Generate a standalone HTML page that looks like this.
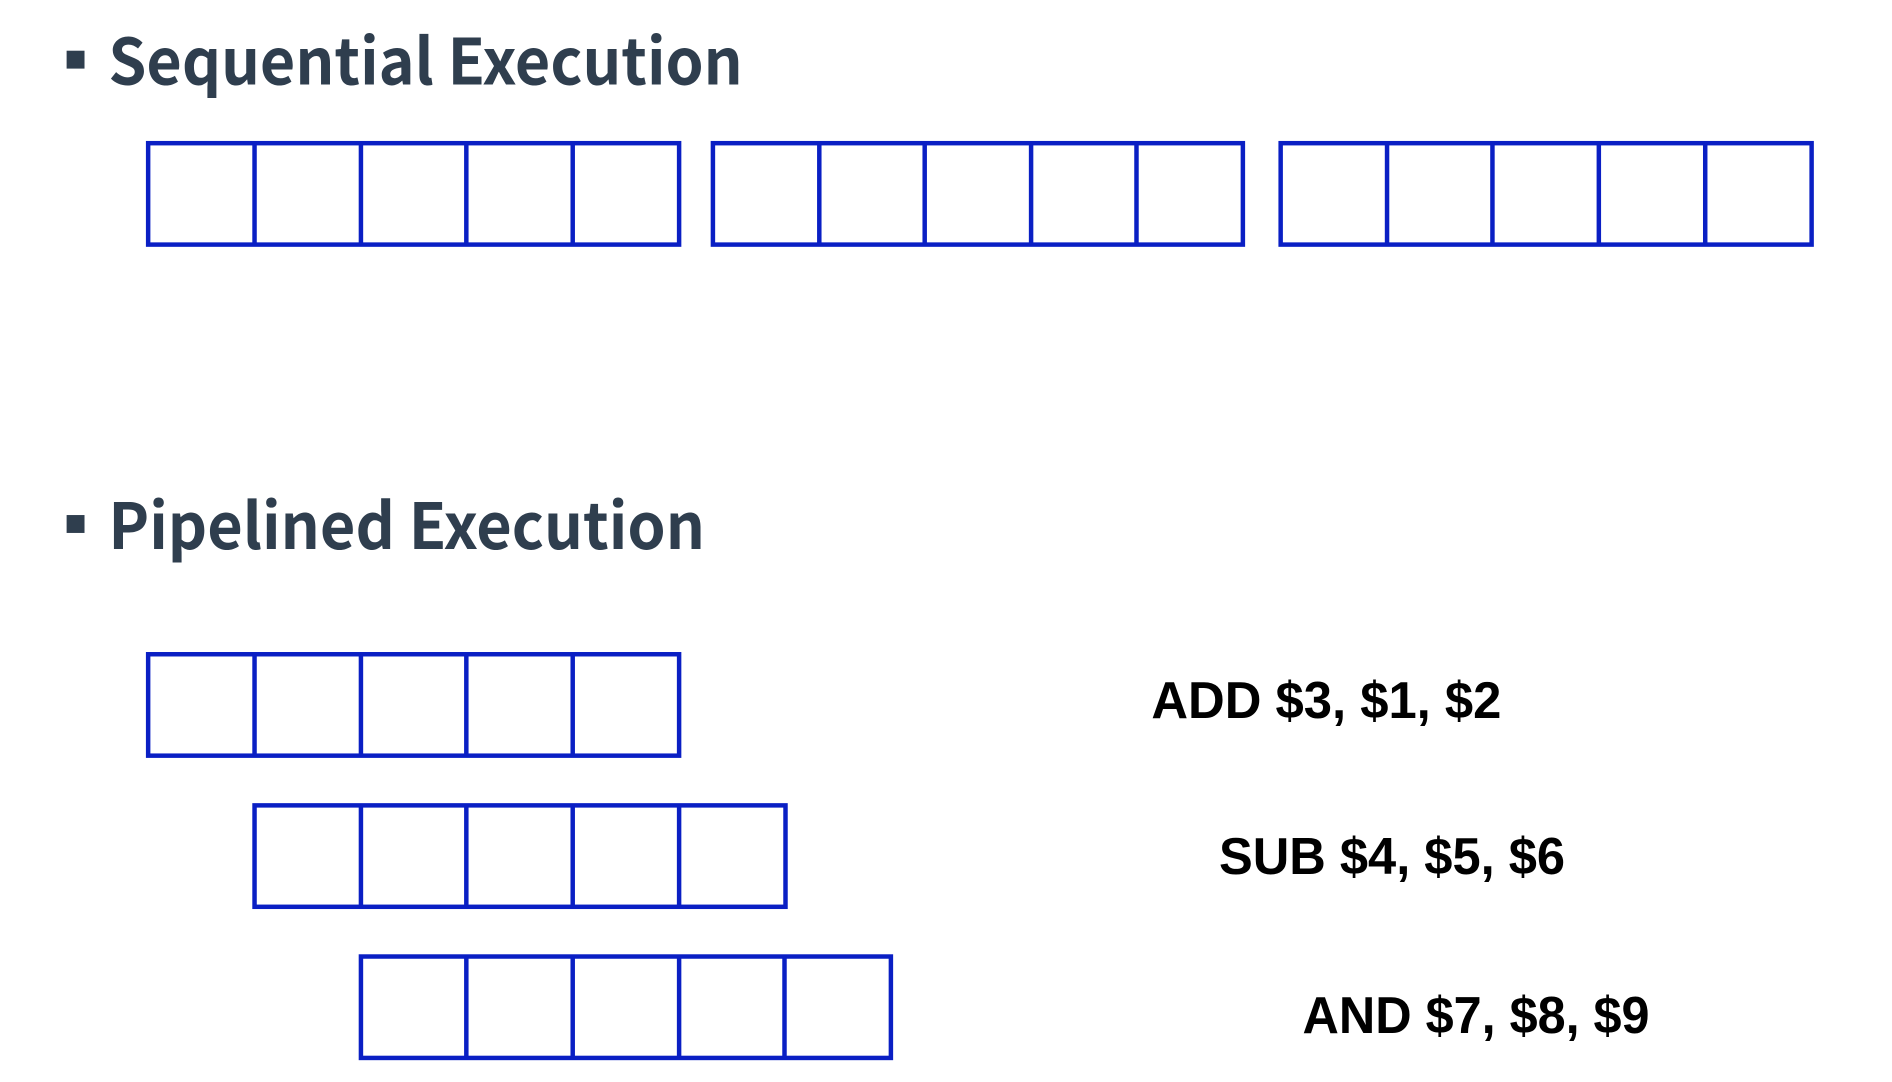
<!DOCTYPE html>
<html><head><meta charset="utf-8"><style>html,body{margin:0;padding:0;background:#fff}svg{display:block}</style></head>
<body>
<svg width="1892" height="1082" viewBox="0 0 1892 1082" xmlns="http://www.w3.org/2000/svg">
<rect width="1892" height="1082" fill="#fff"/>
<g transform="scale(0.9943)">
<g fill="#2f3e4e">
<rect x="67" y="51" width="18" height="18"/>
<rect x="67" y="518" width="18" height="18"/>
</g>
<g font-family="'Noto Sans CJK KR','Liberation Sans',sans-serif" font-weight="bold" font-size="64" fill="#2f3e4e">
<text x="109" y="85" textLength="638" lengthAdjust="spacingAndGlyphs">Sequential Execution</text>
<text x="109" y="552" textLength="600" lengthAdjust="spacingAndGlyphs">Pipelined Execution</text>
</g>
<g fill="none" stroke="#0a1fc4" stroke-width="4.5">
<rect x="149" y="144" width="534" height="102"/>
<path d="M256 144V246M363 144V246M469 144V246M576 144V246"/>
<rect x="717" y="144" width="533" height="102"/>
<path d="M824 144V246M930 144V246M1037 144V246M1143 144V246"/>
<rect x="1288" y="144" width="534" height="102"/>
<path d="M1395 144V246M1501 144V246M1608 144V246M1715 144V246"/>
<rect x="149" y="658" width="534" height="102"/>
<path d="M256 658V760M363 658V760M469 658V760M576 658V760"/>
<rect x="256" y="810" width="534" height="102"/>
<path d="M363 810V912M469 810V912M576 810V912M683 810V912"/>
<rect x="363" y="962" width="533" height="102"/>
<path d="M469 962V1064M576 962V1064M683 962V1064M789 962V1064"/>
</g>
<g font-family="'Liberation Sans',Arial,sans-serif" font-weight="bold" font-size="52" fill="#000">
<text x="1158" y="722" textLength="352" lengthAdjust="spacingAndGlyphs">ADD $3, $1, $2</text>
<text x="1226" y="879" textLength="348" lengthAdjust="spacingAndGlyphs">SUB $4, $5, $6</text>
<text x="1310" y="1039" textLength="349" lengthAdjust="spacingAndGlyphs">AND $7, $8, $9</text>
</g>
</g>
</svg>
</body></html>
